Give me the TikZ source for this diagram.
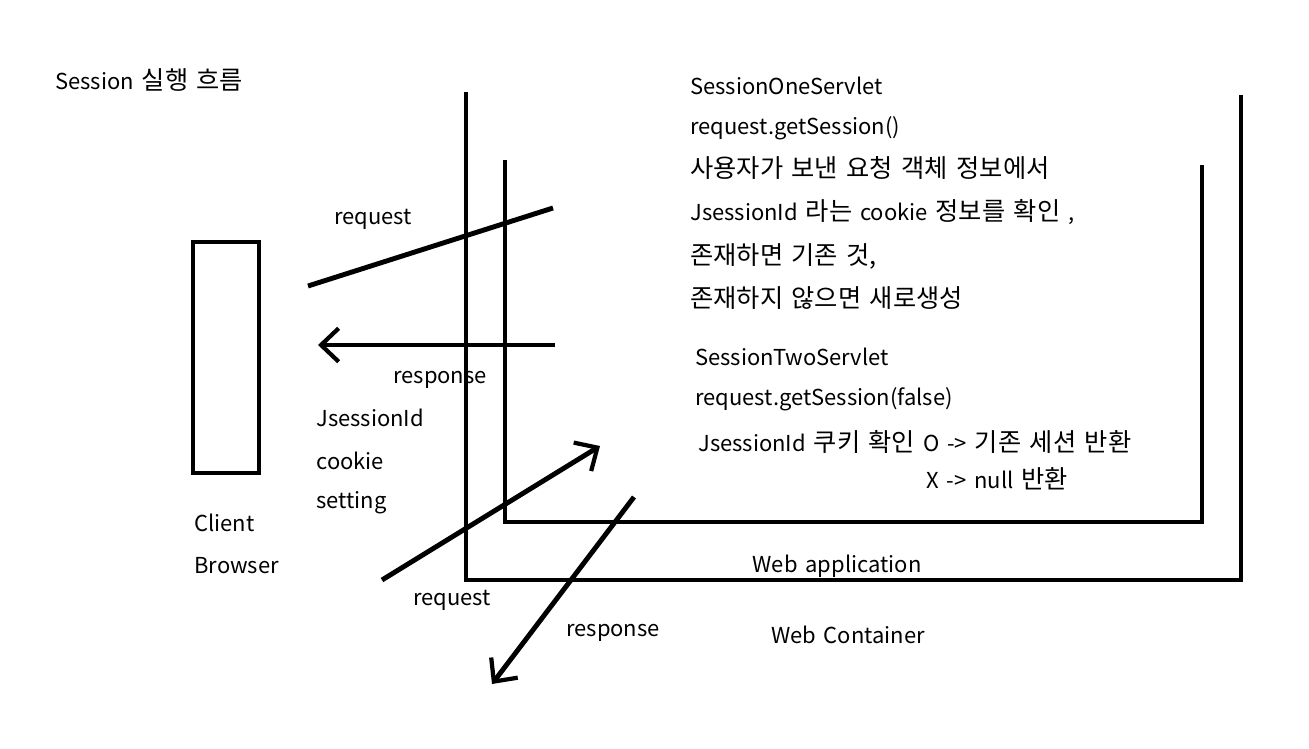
\documentclass[tikz,border=0pt]{standalone}
\usepackage{fontspec}
\setmainfont[WordSpace=1.6]{Noto Sans CJK KR}
\newfontfamily\kr[Scale=1.15, WordSpace=1.5]{Noto Sans CJK KR}
\usepackage{tikz}
\usetikzlibrary{arrows.meta, positioning}

\begin{document}
\begin{tikzpicture}[
          x=0.02cm, y=-0.02cm,
          every node/.style={inner sep=0pt, font=\fontsize{12.5}{15}\selectfont},
          txt/.style={anchor=west},
          thick line/.style={line width=2.8pt},
          flow/.style={thick line, -{Straight Barb[length=10pt, width=19pt, line width=2.4pt]}}
        ]
          \useasboundingbox (0,0) rectangle (1309,748);
          % title
          \node[txt] (title) at (55,80) {Session {\kr 실행 흐름}};
          % web container and web application
          \draw[thick line] (466,92) -- (466,580) -- (1241,580) -- (1241,95);
          \draw[thick line] (505,160) -- (505,522) -- (1202,522) -- (1202,165);
          \node (webapp) at (837,566) {Web application};
          \node (webcont) at (848,635) {Web Container};
          % client
          \node[draw, thick line, minimum width=66*0.02cm, minimum height=231*0.02cm] (client) at (226,357.5) {};
          \node[txt] (clientlbl) at (194,523) {Client};
          \node[txt] (browserlbl) at (194,566) {Browser};
          % first servlet
          \node[txt] (one1) at (690,86) {SessionOneServlet};
          \node[txt] (one2) at (690,128) {request.getSession()};
          \node[txt] (one3) at (690,168) {\kr 사용자가 보낸 요청 객체 정보에서};
          \node[txt] (one4) at (690,212) {JsessionId {\kr 라는} cookie {\kr 정보를 확인} ,};
          \node[txt] (one5) at (690,256) {\kr 존재하면 기존 것,};
          \node[txt] (one6) at (690,298) {\kr 존재하지 않으면 새로생성};
          % second servlet
          \node[txt] (two1) at (695,357) {SessionTwoServlet};
          \node[txt] (two2) at (695,399) {request.getSession(false)};
          \node[txt] (two3) at (698,442) {JsessionId {\kr 쿠키 확인} O -> {\kr 기존 세션 반환}};
          \node[txt] (two4) at (926,479) {X -> null {\kr 반환}};
          % labels of the flows
          \node (req1) at (373,219) {request};
          \node (resp1) at (440,380) {response};
          \node[txt] (cook1) at (316,418) {JsessionId};
          \node[txt] (cook2) at (316,461) {cookie};
          \node[txt] (cook3) at (316,503) {setting};
          \node (req2) at (452,600) {request};
          \node (resp2) at (613,633) {response};
          % flows
          \coordinate (reqA) at (308,286);
          \coordinate (reqB) at (553,208);
          \coordinate (respA) at (555,345);
          \coordinate (respB) at (318,345);
          \coordinate (reqC) at (382,580);
          \coordinate (reqD) at (600,446);
          \coordinate (respC) at (634,497);
          \coordinate (respD) at (492,684);
          \draw[thick line] (reqA) -- (reqB);
          \draw[flow] (respA) -- (respB);
          \draw[flow] (reqC) -- (reqD);
          \draw[flow] (respC) -- (respD);
        \end{tikzpicture}
\end{document}
